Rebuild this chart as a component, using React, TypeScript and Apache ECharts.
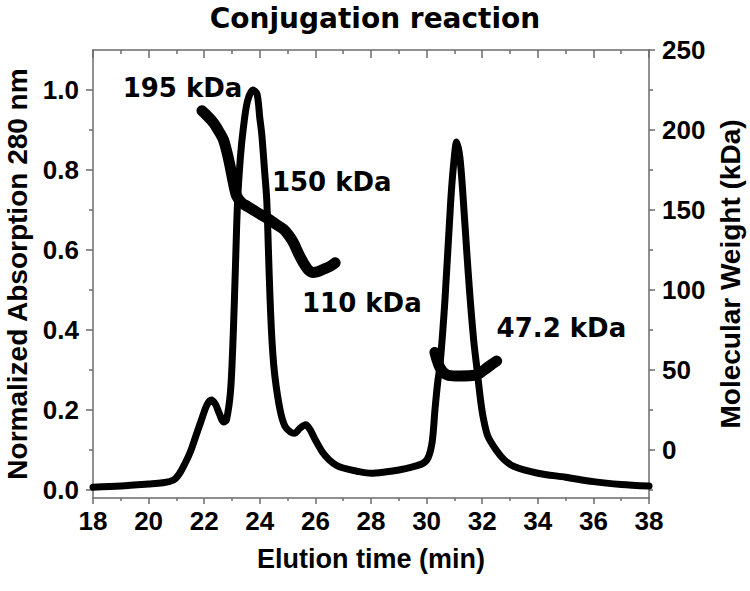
import React, { useEffect, useRef } from 'react';
import * as echarts from 'echarts';

// Elution time (min) and normalized absorption at 280 nm
const absTime = [
  18.0, 19.0, 20.0, 20.5, 20.9, 21.1, 21.3, 21.5, 21.7, 21.9, 22.1, 22.25, 22.4, 22.55, 22.7, 22.8,
  22.95, 23.05, 23.12, 23.2, 23.3, 23.4, 23.55, 23.75, 23.9, 24.0, 24.07, 24.17, 24.25, 24.31, 24.37,
  24.45, 24.55, 24.73, 24.9, 25.1, 25.25, 25.45, 25.65, 25.8, 26.0, 26.25, 26.5, 26.75, 27.0, 27.5,
  28.0, 28.5, 29.0, 29.5, 29.85, 30.05, 30.2, 30.3, 30.4, 30.48, 30.66, 30.87, 30.98, 31.08, 31.2,
  31.32, 31.45, 31.57, 31.7, 31.8, 31.95, 32.04, 32.2, 32.5, 32.8, 33.17, 34.0, 35.0, 36.0, 37.0, 38.0,
];
const absValue = [
  0.007, 0.010, 0.015, 0.018, 0.025, 0.040, 0.065, 0.095, 0.135, 0.175, 0.213, 0.225, 0.215, 0.19, 0.17, 0.175,
  0.25, 0.40, 0.55, 0.72, 0.83, 0.90, 0.97, 1.0, 0.99, 0.93, 0.89, 0.80, 0.725, 0.60, 0.475,
  0.36, 0.28, 0.20, 0.16, 0.145, 0.142, 0.155, 0.163, 0.152, 0.125, 0.095, 0.075, 0.062, 0.055, 0.047,
  0.042, 0.045, 0.05, 0.058, 0.066, 0.08, 0.12, 0.20, 0.27, 0.31, 0.475, 0.725, 0.82, 0.87, 0.83,
  0.725, 0.59, 0.475, 0.37, 0.31, 0.22, 0.18, 0.135, 0.10, 0.075, 0.058, 0.042, 0.032, 0.021, 0.014, 0.010,
];

// Molecular weight (kDa) traces across the two peaks (null separates them)
const mwTime = [
  21.92, 22.1, 22.33, 22.5, 22.69, 22.82, 22.93, 23.05, 23.17, 23.35, 23.53, 23.9, 24.25, 24.55, 24.85,
  25.05, 25.21, 25.4, 25.57, 25.75, 25.93, 26.1, 26.29, 26.5, 26.71,
  null,
  30.3, 30.38, 30.48, 30.6, 30.78, 31.2, 31.74, 31.95, 32.1, 32.3, 32.52,
];
const mwValue = [
  212, 209, 204.6, 200, 194, 186, 177.5, 167, 158.7, 154.5, 152.5, 148.5, 145, 141.5, 138,
  134, 129.6, 122.5, 117, 112.5, 111, 111.5, 113, 114.5, 117,
  null,
  61, 56, 51.5, 48.5, 46.7, 46.3, 46.7, 48.5, 50.4, 53, 55.6,
];

// Peak annotations (text centre, in elution time / absorption units)
const annotText = ['195 kDa', '150 kDa', '110 kDa', '47.2 kDa'];
const annotTime = [21.22, 26.59, 27.67, 34.85];
const annotLevel = [1.005, 0.77, 0.4675, 0.406];

// Tick values
const leftMajor = [0, 0.2, 0.4, 0.6, 0.8, 1.0];
const leftMinor = [0.1, 0.3, 0.5, 0.7, 0.9];
const rightMajor = [0, 50, 100, 150, 200, 250];
const rightMinor = [-25, 25, 75, 125, 175, 225];

const AXIS_COLOR = '#6b6b6b';
const LABEL_FONT = {
  fontFamily: 'Liberation Sans',
  fontWeight: 'bold' as const,
  fontSize: 26,
  color: '#000',
};

export default function App() {
  const ref = useRef<HTMLDivElement>(null);

  useEffect(() => {
    if (!ref.current) return;
    const chart = echarts.init(ref.current, undefined, { renderer: 'svg' });

    const absData = absTime.map((t, i) => [t, absValue[i]]);
    const mwData = mwTime.map((t, i) => (t === null ? [null, null] : [t, mwValue[i]]));
    const annotData = annotText.map((s, i) => [annotTime[i], annotLevel[i], s]);

    const axisLine = { show: true, onZero: false, lineStyle: { color: AXIS_COLOR, width: 1.5 } };

    chart.setOption({
      animation: false,
      backgroundColor: '#fff',
      title: {
        text: 'Conjugation reaction',
        left: 'center',
        top: -1,
        textStyle: {
          fontFamily: 'DejaVu Sans',
          fontWeight: 'bold',
          fontSize: 28,
          color: '#000',
        },
      },
      grid: {
        left: 93,
        right: 101,
        top: 50,
        bottom: 93,
        containLabel: false,
        outerBoundsMode: 'none',
      },
      xAxis: [
        {
          type: 'value',
          position: 'bottom',
          min: 18,
          max: 38,
          interval: 2,
          name: 'Elution time (min)',
          nameLocation: 'middle',
          nameGap: 47,
          nameTextStyle: { ...LABEL_FONT, fontSize: 27 },
          axisLine,
          axisTick: { show: true, length: 6, lineStyle: { color: AXIS_COLOR, width: 1.5 } },
          minorTick: { show: true, splitNumber: 2, length: 3, lineStyle: { color: AXIS_COLOR, width: 1.5 } },
          axisLabel: { ...LABEL_FONT, margin: 10 },
          splitLine: { show: false },
        },
        {
          type: 'value',
          position: 'top',
          min: 18,
          max: 38,
          interval: 2,
          axisLine,
          axisTick: { show: true, inside: true, length: 8, lineStyle: { color: AXIS_COLOR, width: 1.5 } },
          minorTick: { show: true, splitNumber: 2, length: 4, lineStyle: { color: AXIS_COLOR, width: 1.5 } },
          axisLabel: { show: false },
          splitLine: { show: false },
        },
      ],
      yAxis: [
        {
          type: 'value',
          position: 'left',
          min: -0.02,
          max: 1.1,
          name: 'Normalized Absorption 280 nm',
          nameLocation: 'middle',
          nameRotate: 90,
          nameGap: 61,
          nameTextStyle: { ...LABEL_FONT, fontSize: 28 },
          axisLine,
          axisTick: {
            show: true,
            length: 7,
            customValues: leftMajor,
            lineStyle: { color: AXIS_COLOR, width: 1.5 },
          },
          axisLabel: {
            ...LABEL_FONT,
            margin: 14,
            customValues: leftMajor,
            formatter: (v: number) => v.toFixed(1),
          },
          splitLine: { show: false },
        },
        {
          type: 'value',
          position: 'right',
          min: -30,
          max: 250,
          name: 'Molecular Weight (kDa)',
          nameLocation: 'middle',
          nameRotate: 90,
          nameGap: 65,
          nameTextStyle: { ...LABEL_FONT, fontSize: 28 },
          axisLine,
          axisTick: {
            show: true,
            length: 6,
            customValues: rightMajor,
            lineStyle: { color: AXIS_COLOR, width: 1.5 },
          },
          axisLabel: {
            ...LABEL_FONT,
            margin: 13,
            customValues: rightMajor,
            formatter: (v: number) => String(v),
          },
          splitLine: { show: false },
        },
        {
          type: 'value',
          position: 'left',
          min: -0.02,
          max: 1.1,
          axisLine: { show: false },
          axisTick: {
            show: true,
            length: 4,
            customValues: leftMinor,
            lineStyle: { color: AXIS_COLOR, width: 1.5 },
          },
          axisLabel: { show: false },
          splitLine: { show: false },
        },
        {
          type: 'value',
          position: 'right',
          min: -30,
          max: 250,
          axisLine: { show: false },
          axisTick: {
            show: true,
            length: 4,
            customValues: rightMinor,
            lineStyle: { color: AXIS_COLOR, width: 1.5 },
          },
          axisLabel: { show: false },
          splitLine: { show: false },
        },
      ],
      series: [
        {
          name: 'Absorption',
          type: 'line',
          xAxisIndex: 0,
          yAxisIndex: 0,
          data: absData,
          showSymbol: false,
          symbol: 'none',
          smooth: 0.3,
          lineStyle: { color: '#000', width: 7, join: 'round', cap: 'round' },
          z: 3,
        },
        {
          name: 'Molecular Weight',
          type: 'line',
          xAxisIndex: 0,
          yAxisIndex: 1,
          data: mwData,
          connectNulls: false,
          showSymbol: false,
          symbol: 'none',
          smooth: 0.3,
          lineStyle: { color: '#000', width: 11, join: 'round', cap: 'round' },
          z: 4,
        },
        {
          name: 'Annotations',
          type: 'scatter',
          xAxisIndex: 0,
          yAxisIndex: 0,
          data: annotData,
          symbolSize: 0,
          silent: true,
          itemStyle: { opacity: 1, color: '#000' },
          label: {
            show: true,
            position: 'inside',
            formatter: (p: any) => p.data[2],
            fontFamily: 'DejaVu Sans',
            fontWeight: 'bold',
            fontSize: 26,
            color: '#000',
            opacity: 1,
          },
          z: 5,
        },
      ],
    });

    return () => chart.dispose();
  }, []);

  return (
    <div
      ref={ref}
      style={{ position: 'fixed', left: 0, top: 0, width: 750, height: 591, background: '#fff' }}
    />
  );
}
